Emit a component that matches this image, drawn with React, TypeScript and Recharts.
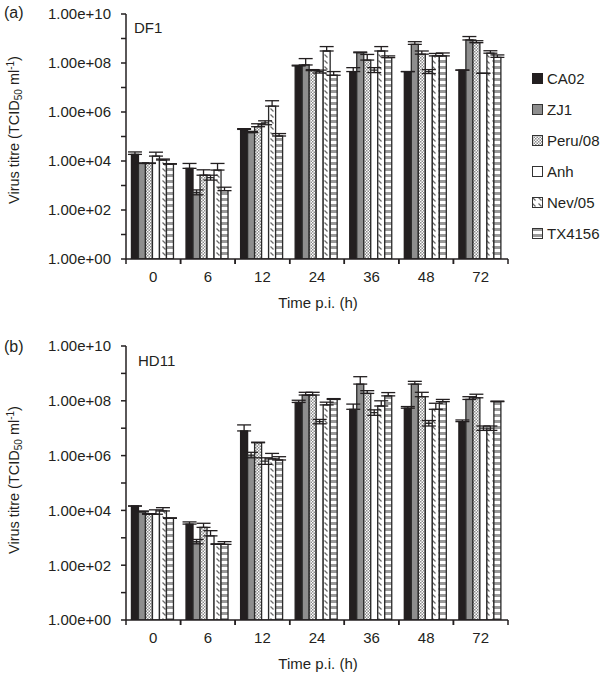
import React from 'react';
import { BarChart, Bar, XAxis, YAxis, ErrorBar } from 'recharts';

// ---- data (log10 of virus titre, TCID50/ml) ----
const categories = ['0', '6', '12', '24', '36', '48', '72'];
const strains = ['CA02', 'ZJ1', 'Peru/08', 'Anh', 'Nev/05', 'TX4156'];
const yTicks = [0, 1, 2, 3, 4, 5, 6, 7, 8, 9, 10];

// Panel (a) DF1
const df1CA02 = [4.27, 3.7, 5.29, 7.88, 7.65, 7.65, 7.71];
const df1ZJ1 = [3.9, 2.72, 5.16, 7.92, 8.42, 8.76, 8.94];
const df1Peru = [3.9, 3.42, 5.4, 7.69, 8.12, 8.36, 8.83];
const df1Anh = [4.2, 3.32, 5.56, 7.65, 7.71, 7.65, 7.58];
const df1Nev = [4.04, 3.63, 6.24, 8.49, 8.49, 8.29, 8.4];
const df1TX = [3.87, 2.79, 5.02, 7.5, 8.22, 8.29, 8.23];

const df1CA02Err = [[0, 0.1], [0, 0.2], [0, 0.03], [0, 0.03], [0, 0.16], [0, 0], [0, 0]];
const df1ZJ1Err = [[0, 0.02], [0.1, 0.1], [0, 0.05], [0, 0.26], [0, 0.03], [0, 0.11], [0, 0.14]];
const df1PeruErr = [[0, 0.02], [0, 0.22], [0, 0.12], [0, 0.04], [0, 0.23], [0, 0.13], [0, 0.08]];
const df1AnhErr = [[0, 0.16], [0.1, 0.1], [0.08, 0.08], [0.06, 0.06], [0.1, 0.1], [0.08, 0.08], [0, 0]];
const df1NevErr = [[0, 0.04], [0, 0.27], [0, 0.22], [0, 0.18], [0, 0.18], [0, 0.1], [0, 0.1]];
const df1TXErr = [[0, 0.02], [0, 0.14], [0, 0.1], [0, 0.15], [0, 0.07], [0, 0.12], [0, 0.1]];

// Panel (b) HD11
const hd11CA02 = [4.16, 3.5, 6.9, 7.94, 7.69, 7.73, 7.24];
const hd11ZJ1 = [3.95, 2.86, 6.02, 8.21, 8.61, 8.61, 8.05];
const hd11Peru = [3.86, 3.38, 6.47, 8.21, 8.27, 8.15, 8.11];
const hd11Anh = [3.86, 3.07, 5.8, 7.24, 7.57, 7.18, 7.0];
const hd11Nev = [3.98, 2.76, 5.88, 7.85, 7.81, 7.69, 7.0];
const hd11TX = [3.71, 2.76, 5.84, 8.05, 8.18, 7.97, 7.97];

const hd11CA02Err = [[0, 0], [0, 0.08], [0, 0.22], [0, 0.08], [0, 0.19], [0, 0.06], [0, 0.06]];
const hd11ZJ1Err = [[0, 0.03], [0.08, 0.08], [0.1, 0.1], [0, 0.1], [0, 0.27], [0, 0.1], [0, 0.1]];
const hd11PeruErr = [[0, 0.02], [0, 0.15], [0, 0.02], [0, 0.1], [0, 0.1], [0, 0.16], [0, 0.13]];
const hd11AnhErr = [[0, 0.16], [0, 0.19], [0.12, 0.12], [0.08, 0.08], [0.1, 0.1], [0.1, 0.1], [0.08, 0.08]];
const hd11NevErr = [[0, 0.12], [0, 0.02], [0, 0.2], [0, 0.1], [0, 0.19], [0, 0.22], [0.08, 0.08]];
const hd11TXErr = [[0, 0.02], [0, 0.1], [0, 0.12], [0, 0.03], [0, 0.12], [0, 0.08], [0, 0.02]];

const FONT = '"Liberation Sans", Arial, Helvetica, sans-serif';
const INK = '#231f20';

const fills = [INK, '#8e8e8e', 'url(#patChecker)', '#ffffff', 'url(#patDiag)', 'url(#patStripe)'];
const keys = ['s0', 's1', 's2', 's3', 's4', 's5'];

function buildRows(vals: number[][], errs: number[][][]) {
  return categories.map((c, i) => {
    const row: any = { cat: c };
    vals.forEach((v, s) => {
      row[keys[s]] = v[i];
      row[keys[s] + 'e'] = errs[s][i];
    });
    return row;
  });
}

const df1Rows = buildRows(
  [df1CA02, df1ZJ1, df1Peru, df1Anh, df1Nev, df1TX],
  [df1CA02Err, df1ZJ1Err, df1PeruErr, df1AnhErr, df1NevErr, df1TXErr]
);
const hd11Rows = buildRows(
  [hd11CA02, hd11ZJ1, hd11Peru, hd11Anh, hd11Nev, hd11TX],
  [hd11CA02Err, hd11ZJ1Err, hd11PeruErr, hd11AnhErr, hd11NevErr, hd11TXErr]
);

const fmtY = (v: number) => (v % 2 === 0 ? `1.00e+${String(v).padStart(2, '0')}` : '');

const XTick = (props: any) => {
  const { x, y, payload } = props;
  const half = payload && payload.offset ? payload.offset : 27.3;
  return (
    <g>
      <line x1={x - half} x2={x - half} y1={y - 5} y2={y} stroke={INK} strokeWidth={1.5} />
      <line x1={x + half} x2={x + half} y1={y - 5} y2={y} stroke={INK} strokeWidth={1.5} />
      <text x={x} y={y + 7} dy="0.71em" textAnchor="middle" fontSize={15} fontFamily={FONT} fill={INK}>
        {payload.value}
      </text>
    </g>
  );
};

function Panel({ rows, top, height, marginTop, xHeight }: any) {
  return (
    <div style={{ position: 'absolute', left: 0, top }}>
      <BarChart
        width={605}
        height={height}
        data={rows}
        margin={{ top: marginTop, right: 97, bottom: 0, left: 0 }}
        barCategoryGap="10%"
        barGap={0}
      >
        <XAxis
          dataKey="cat"
          height={xHeight}
          tickLine={false}
          tickSize={5}
          tickMargin={0}
          tick={<XTick />}
          axisLine={{ stroke: INK, strokeWidth: 1.5 }}
          interval={0}
        />
        <YAxis
          type="number"
          domain={[0, 10]}
          ticks={yTicks}
          width={126}
          tickSize={5}
          tickMargin={10}
          tickFormatter={fmtY}
          interval={0}
          axisLine={{ stroke: INK, strokeWidth: 1.5 }}
          tickLine={{ stroke: INK, strokeWidth: 1.5 }}
          tick={{ fontSize: 15, fontFamily: FONT, fill: INK }}
          allowDataOverflow
        />
        {keys.map((k, s) => (
          <Bar
            key={k}
            dataKey={k}
            fill={fills[s]}
            stroke={s === 0 ? INK : '#2a2a2a'}
            strokeWidth={1.3}
            isAnimationActive={false}
          >
            <ErrorBar dataKey={k + 'e'} width={7} stroke={INK} strokeWidth={1.3} direction="y" />
          </Bar>
        ))}
      </BarChart>
    </div>
  );
}

const txt: React.CSSProperties = {
  position: 'absolute',
  fontFamily: FONT,
  fontSize: 15,
  color: INK,
  whiteSpace: 'nowrap',
  lineHeight: 1,
};

function YTitle({ cx, cy }: { cx: number; cy: number }) {
  return (
    <div
      style={{
        ...txt,
        left: cx,
        top: cy,
        transform: 'translate(-50%, -50%) rotate(-90deg)',
        fontSize: 14.5,
      }}
    >
      Virus titre (TCID<sub style={{ fontSize: 10, verticalAlign: '-3px' }}>50</sub> ml
      <sup style={{ fontSize: 10, verticalAlign: '5px' }}>-1</sup>)
    </div>
  );
}

function Swatch({ fill, stroke }: { fill: string; stroke: string }) {
  return (
    <svg width={11} height={11} style={{ position: 'absolute', left: 0, top: 2 }}>
      <rect x={0.5} y={0.5} width={10} height={10} fill={fill} stroke={stroke} strokeWidth={1} />
    </svg>
  );
}

export default function App() {
  return (
    <div style={{ position: 'absolute', left: 0, top: 0, width: 605, height: 676, background: '#fff', overflow: 'hidden' }}>
      <svg width={0} height={0} style={{ position: 'absolute' }}>
        <defs>
          <pattern id="patChecker" patternUnits="userSpaceOnUse" width={3} height={3}>
            <rect width={3} height={3} fill="#ffffff" />
            <rect x={0} y={0} width={1.5} height={1.5} fill="#8a8a8a" />
            <rect x={1.5} y={1.5} width={1.5} height={1.5} fill="#8a8a8a" />
          </pattern>
          <pattern id="patDiag" patternUnits="userSpaceOnUse" width={6} height={6}>
            <rect width={6} height={6} fill="#ffffff" />
            <path d="M0.5,0.5 L3.5,3.5" stroke="#6a6a6a" strokeWidth={1.2} />
          </pattern>
          <pattern id="patStripe" patternUnits="userSpaceOnUse" width={6} height={6}>
            <rect width={6} height={6} fill="#ffffff" />
            <rect x={0} y={0} width={6} height={3} fill="#9a9a9a" />
          </pattern>
        </defs>
      </svg>

      <Panel rows={df1Rows} top={0} height={320} marginTop={14} xHeight={61} />
      <Panel rows={hd11Rows} top={330} height={340} marginTop={16} xHeight={50} />

      <div style={{ ...txt, left: 4, top: 5, fontSize: 16 }}>(a)</div>
      <div style={{ ...txt, left: 134, top: 20 }}>DF1</div>
      <YTitle cx={15} cy={130} />
      <div style={{ ...txt, left: 318, top: 302, transform: 'translate(-50%, -50%)' }}>Time p.i. (h)</div>

      <div style={{ ...txt, left: 4, top: 339, fontSize: 16 }}>(b)</div>
      <div style={{ ...txt, left: 138, top: 353 }}>HD11</div>
      <YTitle cx={15} cy={480} />
      <div style={{ ...txt, left: 318, top: 663, transform: 'translate(-50%, -50%)' }}>Time p.i. (h)</div>

      {strains.map((s, i) => (
        <div key={s} style={{ ...txt, left: 532, top: 71 + i * 31, paddingLeft: 15, height: 15 }}>
          <Swatch fill={fills[i]} stroke={i === 0 ? INK : '#333333'} />
          {s}
        </div>
      ))}
    </div>
  );
}
